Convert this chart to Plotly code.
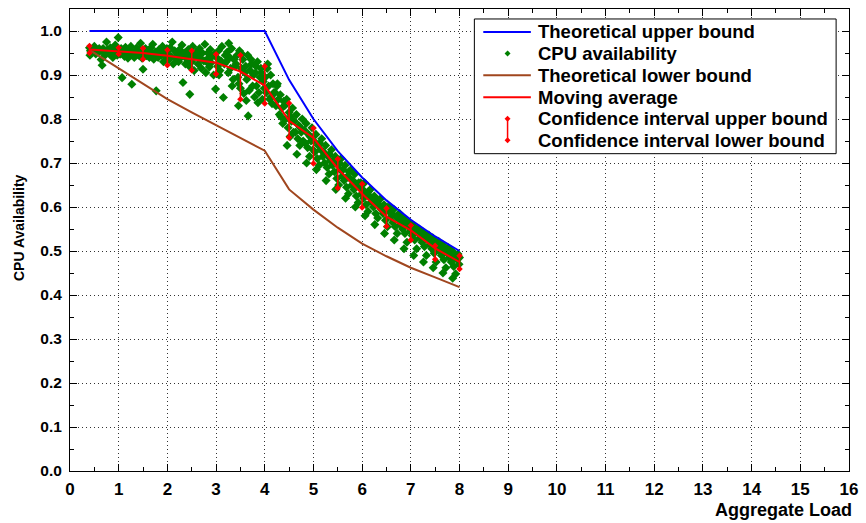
import plotly.graph_objects as go

# ---------------- data ----------------
upper_x = [0.4, 1, 2, 3, 4, 4.5, 5, 5.5, 6, 6.5, 7, 7.5, 8]
upper_y = [1.0, 1.0, 1.0, 1.0, 1.0, 0.889, 0.800, 0.727, 0.667, 0.615, 0.571, 0.533, 0.500]

lower_x = [0.4, 1, 1.5, 2, 2.5, 3, 3.5, 4, 4.5, 5, 5.5, 6, 6.5, 7, 7.5, 8]
lower_y = [0.957, 0.915, 0.880, 0.845, 0.815, 0.786, 0.758, 0.728, 0.640, 0.594,
           0.553, 0.517, 0.488, 0.462, 0.440, 0.418]

ma_x = [0.4, 1, 1.5, 2, 2.5, 3, 3.5, 4, 4.5, 5, 5.5, 6, 6.5, 7, 7.5, 8]
ma_y = [0.958, 0.953, 0.950, 0.944, 0.936, 0.928, 0.908, 0.876, 0.796, 0.757,
        0.687, 0.630, 0.578, 0.547, 0.506, 0.475]
ci_up = [0.966, 0.962, 0.961, 0.957, 0.955, 0.947, 0.945, 0.920, 0.836, 0.779,
         0.709, 0.652, 0.597, 0.558, 0.512, 0.489]
ci_lo = [0.950, 0.948, 0.936, 0.922, 0.911, 0.902, 0.845, 0.835, 0.758, 0.699,
         0.643, 0.599, 0.556, 0.525, 0.481, 0.459]

cpu_load = [
    0.40, 0.42, 0.45, 0.48, 0.50, 0.53, 0.55, 0.58, 0.60, 0.41,
    0.62, 0.64, 0.66, 0.68, 0.70, 0.72, 0.75, 0.77, 0.79,
    0.81, 0.83, 0.86, 0.88, 0.90, 0.93, 0.95, 0.97, 0.99,
    1.01, 1.03, 1.05, 1.07, 1.09, 1.12, 1.14, 1.16, 1.19,
    1.21, 1.23, 1.25, 1.27, 1.30, 1.32, 1.35, 1.37, 1.39,
    1.41, 1.43, 1.45, 1.48, 1.50, 1.52, 1.55, 1.57, 1.59,
    1.61, 1.63, 1.66, 1.68, 1.70, 1.72, 1.75, 1.77, 1.79,
    1.81, 1.83, 1.85, 1.88, 1.90, 1.92, 1.95, 1.97, 1.99,
    2.01, 2.03, 2.05, 2.08, 2.10, 2.12, 2.15, 2.17, 2.19, 2.06,
    2.21, 2.23, 2.25, 2.28, 2.30, 2.32, 2.35, 2.37, 2.39, 2.26,
    2.41, 2.43, 2.45, 2.48, 2.50, 2.52, 2.55, 2.57, 2.59, 2.46,
    2.61, 2.63, 2.66, 2.68, 2.70, 2.72, 2.75, 2.77, 2.79, 2.64,
    2.81, 2.83, 2.86, 2.88, 2.90, 2.92, 2.95, 2.97, 2.99, 2.85,
    3.01, 3.03, 3.05, 3.08, 3.10, 3.12, 3.15, 3.17, 3.19, 3.06,
    3.21, 3.23, 3.25, 3.28, 3.30, 3.32, 3.35, 3.37, 3.39, 3.26, 3.33,
    3.41, 3.43, 3.45, 3.48, 3.50, 3.52, 3.55, 3.57, 3.59, 3.46, 3.53, 3.47,
    3.61, 3.63, 3.65, 3.68, 3.70, 3.72, 3.75, 3.77, 3.79, 3.66, 3.73, 3.62,
    3.81, 3.83, 3.85, 3.88, 3.90, 3.92, 3.95, 3.97, 3.99, 3.86, 3.93, 3.82,
    4.01, 4.03, 4.05, 4.08, 4.10, 4.12, 4.15, 4.17, 4.19, 4.06, 4.13,
    4.21, 4.23, 4.25, 4.28, 4.30, 4.32, 4.35, 4.37, 4.39, 4.26, 4.33,
    4.41, 4.43, 4.45, 4.48, 4.50, 4.52, 4.55, 4.57, 4.59, 4.46, 4.53,
    4.61, 4.63, 4.65, 4.68, 4.70, 4.72, 4.75, 4.77, 4.79, 4.66, 4.73,
    4.81, 4.83, 4.85, 4.88, 4.90, 4.92, 4.95, 4.97, 4.99, 4.86, 4.93,
    5.01, 5.03, 5.05, 5.08, 5.10, 5.12, 5.15, 5.17, 5.19, 5.06, 5.13,
    5.21, 5.23, 5.25, 5.28, 5.30, 5.32, 5.35, 5.37, 5.39, 5.26, 5.33,
    5.41, 5.43, 5.45, 5.48, 5.50, 5.52, 5.55, 5.57, 5.59, 5.46, 5.53,
    5.61, 5.63, 5.65, 5.68, 5.70, 5.72, 5.75, 5.77, 5.79, 5.66, 5.73,
    5.81, 5.83, 5.85, 5.88, 5.90, 5.92, 5.95, 5.97, 5.99, 5.86, 5.93,
    6.01, 6.03, 6.05, 6.08, 6.10, 6.12, 6.15, 6.17, 6.19, 6.06, 6.13,
    6.21, 6.23, 6.25, 6.28, 6.30, 6.32, 6.35, 6.37, 6.39, 6.26, 6.33,
    6.41, 6.43, 6.45, 6.48, 6.50, 6.52, 6.55, 6.57, 6.59, 6.46, 6.53,
    6.61, 6.63, 6.65, 6.68, 6.70, 6.72, 6.75, 6.77, 6.79, 6.66, 6.73,
    6.81, 6.83, 6.85, 6.88, 6.90, 6.92, 6.95, 6.97, 6.99, 6.86, 6.93,
    7.01, 7.03, 7.05, 7.08, 7.10, 7.12, 7.15, 7.17, 7.19, 7.06, 7.13,
    7.21, 7.23, 7.25, 7.28, 7.30, 7.32, 7.35, 7.37, 7.39, 7.26, 7.33,
    7.41, 7.43, 7.45, 7.48, 7.50, 7.52, 7.55, 7.57, 7.59, 7.46, 7.53,
    7.61, 7.63, 7.65, 7.68, 7.70, 7.72, 7.75, 7.77, 7.79, 7.66, 7.73,
    7.81, 7.83, 7.85, 7.88, 7.90, 7.92, 7.95, 7.97, 7.99, 7.86, 7.93, 8.00,
]
cpu_avail = [
    0.962, 0.955, 0.950, 0.958, 0.965, 0.948, 0.957, 0.952, 0.960, 0.945,
    0.955, 0.935, 0.922, 0.960, 0.950, 0.945, 0.975, 0.958, 0.952,
    0.948, 0.962, 0.955, 0.940, 0.958, 0.968, 0.950, 0.945, 0.985,
    0.955, 0.947, 0.960, 0.894, 0.952, 0.942, 0.963, 0.950, 0.938,
    0.958, 0.946, 0.965, 0.879, 0.950, 0.940, 0.955, 0.962, 0.948,
    0.945, 0.958, 0.972, 0.938, 0.913, 0.952, 0.960, 0.944, 0.950,
    0.955, 0.940, 0.962, 0.948, 0.970, 0.936, 0.952, 0.864, 0.945,
    0.940, 0.958, 0.950, 0.945, 0.965, 0.930, 0.952, 0.942, 0.960,
    0.948, 0.935, 0.960, 0.942, 0.975, 0.925, 0.955, 0.938, 0.950, 0.962,
    0.945, 0.930, 0.958, 0.940, 0.968, 0.883, 0.950, 0.925, 0.942, 0.955,
    0.935, 0.958, 0.920, 0.948, 0.930, 0.965, 0.910, 0.942, 0.952, 0.856,
    0.945, 0.925, 0.960, 0.938, 0.915, 0.950, 0.932, 0.970, 0.905, 0.940,
    0.935, 0.950, 0.918, 0.958, 0.928, 0.942, 0.900, 0.948, 0.868, 0.925,
    0.940, 0.920, 0.955, 0.910, 0.932, 0.965, 0.849, 0.925, 0.945, 0.900,
    0.930, 0.952, 0.905, 0.940, 0.915, 0.960, 0.890, 0.935, 0.920, 0.972, 0.875,
    0.925, 0.945, 0.895, 0.955, 0.870, 0.915, 0.935, 0.858, 0.905, 0.830, 0.948, 0.880,
    0.920, 0.890, 0.945, 0.865, 0.910, 0.935, 0.875, 0.900, 0.850, 0.807, 0.925, 0.842,
    0.905, 0.875, 0.930, 0.860, 0.895, 0.915, 0.845, 0.885, 0.870, 0.837, 0.905, 0.920,
    0.895, 0.860, 0.915, 0.875, 0.845, 0.900, 0.835, 0.880, 0.860, 0.925, 0.850,
    0.860, 0.830, 0.875, 0.845, 0.810, 0.855, 0.825, 0.790, 0.840, 0.880, 0.805,
    0.830, 0.800, 0.845, 0.780, 0.815, 0.760, 0.795, 0.825, 0.770, 0.740, 0.805,
    0.795, 0.770, 0.810, 0.755, 0.785, 0.740, 0.770, 0.800, 0.750, 0.720, 0.780,
    0.775, 0.745, 0.790, 0.735, 0.765, 0.715, 0.750, 0.780, 0.730, 0.700, 0.760,
    0.750, 0.725, 0.765, 0.710, 0.740, 0.695, 0.730, 0.755, 0.715, 0.685, 0.745,
    0.725, 0.700, 0.740, 0.690, 0.715, 0.675, 0.705, 0.730, 0.695, 0.660, 0.720,
    0.705, 0.680, 0.715, 0.665, 0.695, 0.650, 0.685, 0.710, 0.670, 0.640, 0.700,
    0.685, 0.660, 0.695, 0.645, 0.670, 0.630, 0.665, 0.685, 0.650, 0.620, 0.680,
    0.660, 0.640, 0.675, 0.625, 0.650, 0.610, 0.645, 0.655, 0.630, 0.600, 0.655,
    0.640, 0.620, 0.655, 0.605, 0.630, 0.590, 0.625, 0.640, 0.612, 0.580, 0.635,
    0.620, 0.600, 0.625, 0.585, 0.610, 0.575, 0.605, 0.618, 0.595, 0.560, 0.615,
    0.600, 0.585, 0.605, 0.570, 0.595, 0.555, 0.590, 0.600, 0.578, 0.540, 0.600,
    0.585, 0.565, 0.595, 0.555, 0.578, 0.540, 0.572, 0.585, 0.560, 0.525, 0.582,
    0.570, 0.550, 0.575, 0.540, 0.562, 0.520, 0.555, 0.565, 0.545, 0.505, 0.565,
    0.555, 0.535, 0.558, 0.525, 0.548, 0.505, 0.540, 0.550, 0.530, 0.490, 0.550,
    0.540, 0.520, 0.543, 0.510, 0.532, 0.490, 0.525, 0.536, 0.515, 0.475, 0.535,
    0.525, 0.505, 0.530, 0.495, 0.518, 0.475, 0.510, 0.522, 0.500, 0.462, 0.520,
    0.510, 0.490, 0.515, 0.480, 0.502, 0.462, 0.495, 0.507, 0.485, 0.450, 0.505,
    0.495, 0.475, 0.500, 0.465, 0.488, 0.448, 0.480, 0.493, 0.470, 0.438, 0.490, 0.485,
]
assert len(cpu_load) == len(cpu_avail)

legend_labels = ["Theoretical upper bound", "CPU availability", "Theoretical lower bound",
                 "Moving average", "Confidence interval upper bound",
                 "Confidence interval lower bound"]

# ---------------- styles ----------------
BLUE = "#0000FF"
GREEN = "#008000"
BROWN = "#A0461E"
RED = "#FF0000"
FONT = "Liberation Sans"

fig = go.Figure()

fig.add_trace(go.Scatter(x=cpu_load, y=cpu_avail, mode="markers",
                         marker=dict(symbol="diamond", size=7, color=GREEN, line=dict(width=0)),
                         showlegend=False))
fig.add_trace(go.Scatter(x=lower_x, y=lower_y, mode="lines",
                         line=dict(color=BROWN, width=2), showlegend=False))
fig.add_trace(go.Scatter(x=upper_x, y=upper_y, mode="lines",
                         line=dict(color=BLUE, width=2), showlegend=False))
fig.add_trace(go.Scatter(x=ma_x, y=ma_y, mode="lines",
                         line=dict(color=RED, width=2), showlegend=False))

ci_x, ci_y = [], []
for xv, u, l in zip(ma_x, ci_up, ci_lo):
    ci_x += [xv, xv, None]
    ci_y += [u, l, None]
fig.add_trace(go.Scatter(x=ci_x, y=ci_y, mode="lines+markers",
                         line=dict(color=RED, width=1.5),
                         marker=dict(symbol="diamond", size=5, color=RED),
                         connectgaps=False, showlegend=False))

# ---------------- layout ----------------
W, H = 866, 523
ML, MR, MT, MB = 70, 10, 8, 52
PW, PH = W - ML - MR, H - MT - MB


def px(xp):
    return (xp - ML) / PW


def py(yp):
    return (H - MB - yp) / PH


axis_common = dict(
    showline=True, linecolor="black", linewidth=1, mirror="ticks",
    ticks="inside", ticklen=7, tickwidth=1, tickcolor="black",
    showgrid=True, gridcolor="#333333", gridwidth=1, griddash="1px,3px",
    zeroline=False,
)

fig.update_xaxes(range=[0, 16], tick0=0, dtick=1,
                 minor=dict(dtick=0.5, ticks="inside", ticklen=4, tickcolor="black", showgrid=False),
                 tickfont=dict(family=FONT, size=17, color="black", weight="bold"),
                 ticklabelstandoff=3, **axis_common)
fig.update_yaxes(range=[0, 1.05], tick0=0, dtick=0.1, tickformat=".1f",
                 minor=dict(dtick=0.05, ticks="inside", ticklen=4, tickcolor="black", showgrid=False),
                 tickfont=dict(family=FONT, size=15.5, color="black", weight="bold"),
                 ticklabelstandoff=4, **axis_common)

shapes = []
annotations = []

# legend box
shapes.append(dict(type="rect", xref="paper", yref="paper",
                   x0=px(478), x1=px(843), y0=py(153), y1=py(18),
                   line=dict(color="black", width=1), fillcolor="white", layer="above"))
rows = [31, 52.5, 74.5, 96.5, 118, 139.5]
sx0, sx1, sxc, tx = 487, 535, 511.5, 540
for r, col in ((0, BLUE), (2, BROWN), (3, RED)):
    shapes.append(dict(type="line", xref="paper", yref="paper",
                       x0=px(sx0), x1=px(sx1), y0=py(rows[r]), y1=py(rows[r]),
                       line=dict(color=col, width=2), layer="above"))


def diamond(xc, yc, r, col):
    path = (f"M {px(xc)},{py(yc - r)} L {px(xc + r)},{py(yc)} "
            f"L {px(xc)},{py(yc + r)} L {px(xc - r)},{py(yc)} Z")
    return dict(type="path", xref="paper", yref="paper", path=path,
                fillcolor=col, line=dict(color=col, width=0), layer="above")


shapes.append(diamond(sxc, rows[1], 3, GREEN))
shapes.append(dict(type="line", xref="paper", yref="paper",
                   x0=px(sxc), x1=px(sxc), y0=py(rows[4]), y1=py(rows[5]),
                   line=dict(color=RED, width=1.5), layer="above"))
shapes.append(diamond(sxc, rows[4], 3, RED))
shapes.append(diamond(sxc, rows[5], 3, RED))

for lab, r in zip(legend_labels, rows):
    annotations.append(dict(text=lab, xref="paper", yref="paper", x=px(tx), y=py(r),
                            xanchor="left", yanchor="middle", showarrow=False,
                            font=dict(family=FONT, size=18.5, color="black", weight="bold")))

# axis titles
annotations.append(dict(text="Aggregate Load", xref="paper", yref="paper",
                        x=px(861), y=py(510), xanchor="right", yanchor="middle",
                        showarrow=False,
                        font=dict(family=FONT, size=18, color="black", weight="bold")))
annotations.append(dict(text="CPU Availability", xref="paper", yref="paper",
                        x=px(18), y=py(227), xanchor="center", yanchor="middle",
                        textangle=-90, showarrow=False,
                        font=dict(family=FONT, size=14, color="black", weight="bold")))

fig.update_layout(
    width=W, height=H,
    margin=dict(l=ML, r=MR, t=MT, b=MB, pad=0),
    plot_bgcolor="white", paper_bgcolor="white",
    showlegend=False,
    shapes=shapes, annotations=annotations,
)

fig.write_html("out.html")
